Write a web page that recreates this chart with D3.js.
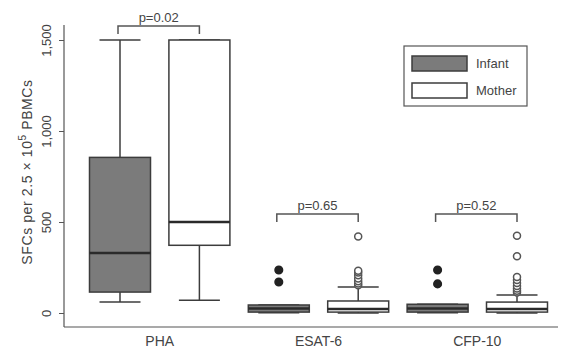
<!DOCTYPE html>
<html>
<head>
<meta charset="utf-8">
<script src="https://cdn.jsdelivr.net/npm/d3@7"></script>
<style>
  body { margin: 0; background: #fff; }
  text { font-family: "Liberation Sans", Arial, sans-serif; fill: #444; }
</style>
</head>
<body>
<div id="chart"></div>
<script>
// ------------------- //
// DATA
// ------------------- //

var groups = ["PHA", "ESAT-6", "CFP-10"]
var series = ["Infant", "Mother"]
var yTicks = [0, 500, 1000, 1500]

// one entry per box: Infant PHA, Mother PHA, Infant ESAT-6, Mother ESAT-6, Infant CFP-10, Mother CFP-10
var boxLow    = [60, 70, 2, 0, 2, 0]
var boxQ1     = [115, 372, 5, 5, 5, 5]
var boxMedian = [330, 500, 25, 22, 25, 22]
var boxQ3     = [855, 1500, 44, 66, 48, 60]
var boxHigh   = [1500, 1500, 44, 143, 48, 99]
var outliers  = [[], [], [170, 236], [152, 162, 175, 190, 208, 222, 232, 420],
                 [160, 236], [112, 122, 134, 148, 165, 182, 198, 312, 424]]

var pLabels = ["p=0.02", "p=0.65", "p=0.52"]


// ------------------- //
// SETUP
// ------------------- //

var W = 566, H = 352

var svg = d3.select("#chart")
  .append("svg")
    .attr("width", W)
    .attr("height", H)

var y = d3.scaleLinear()
    .domain([0, 1500])
    .range([313, 40])

// box positions 1..6
var x = d3.scaleLinear()
    .domain([1, 6])
    .range([120, 517])

var boxW = 61, capW = 41
var dark = "#3c3c3c"

var boxes = boxLow.map(function(d, i) {
  return {i: i, pos: i + 1, s: i % 2, low: boxLow[i], q1: boxQ1[i], med: boxMedian[i],
          q3: boxQ3[i], high: boxHigh[i], out: outliers[i]}
})


// ------------------- //
// AXES
// ------------------- //

// L-shaped frame
svg.append("line")
    .attr("x1", 64).attr("x2", 64).attr("y1", 25).attr("y2", 327)
    .attr("stroke", "#555").attr("stroke-width", 1.2)
svg.append("line")
    .attr("x1", 64).attr("x2", 558).attr("y1", 327).attr("y2", 327)
    .attr("stroke", "#555").attr("stroke-width", 1.2)

var yAxis = svg.append("g")
    .attr("transform", "translate(64,0)")
    .call(d3.axisLeft(y).tickValues(yTicks).tickSize(5).tickFormat(d3.format(",")))
yAxis.select(".domain").remove()
yAxis.selectAll(".tick line").attr("stroke", "#555")
yAxis.selectAll(".tick text")
    .attr("x", null).attr("dy", null)
    .attr("transform", "translate(-13,0) rotate(-90)")
    .attr("text-anchor", "middle")
    .style("font-size", "13px")
    .style("font-family", "Liberation Sans, Arial, sans-serif")
    .attr("fill", "#444")

// y title
var yTitle = svg.append("text")
    .attr("transform", "translate(32,172) rotate(-90)")
    .attr("text-anchor", "middle")
    .style("font-size", "14px")
    .style("letter-spacing", "0.6px")
yTitle.append("tspan").text("SFCs per 2.5 × 10")
yTitle.append("tspan").attr("dy", -6).style("font-size", "10px").text("5")
yTitle.append("tspan").attr("dy", 6).text(" PBMCs")

// category labels
svg.selectAll(".catLabel")
  .data(groups)
  .enter()
  .append("text")
    .attr("x", function(d, i) { return (x(2 * i + 1) + x(2 * i + 2)) / 2 })
    .attr("y", 346)
    .attr("text-anchor", "middle")
    .style("font-size", "14px")
    .text(function(d) { return d })


// ------------------- //
// BOXES
// ------------------- //

var g = svg.selectAll(".box")
  .data(boxes)
  .enter()
  .append("g")
    .attr("class", "box")

// whiskers
g.append("line")
    .attr("x1", function(d) { return x(d.pos) }).attr("x2", function(d) { return x(d.pos) })
    .attr("y1", function(d) { return y(d.q3) }).attr("y2", function(d) { return y(d.high) })
    .attr("stroke", dark).attr("stroke-width", 1.5)
g.append("line")
    .attr("x1", function(d) { return x(d.pos) }).attr("x2", function(d) { return x(d.pos) })
    .attr("y1", function(d) { return y(d.q1) }).attr("y2", function(d) { return y(d.low) })
    .attr("stroke", dark).attr("stroke-width", 1.5)

// caps
g.append("line")
    .attr("x1", function(d) { return x(d.pos) - capW / 2 }).attr("x2", function(d) { return x(d.pos) + capW / 2 })
    .attr("y1", function(d) { return y(d.high) }).attr("y2", function(d) { return y(d.high) })
    .attr("stroke", dark).attr("stroke-width", 1.5)
g.append("line")
    .attr("x1", function(d) { return x(d.pos) - capW / 2 }).attr("x2", function(d) { return x(d.pos) + capW / 2 })
    .attr("y1", function(d) { return y(d.low) }).attr("y2", function(d) { return y(d.low) })
    .attr("stroke", dark).attr("stroke-width", 1.5)

// box
g.append("rect")
    .attr("x", function(d) { return x(d.pos) - boxW / 2 })
    .attr("width", boxW)
    .attr("y", function(d) { return y(d.q3) })
    .attr("height", function(d) { return y(d.q1) - y(d.q3) })
    .attr("fill", function(d) { return d.s == 0 ? "#7b7b7b" : "#fff" })
    .attr("stroke", dark).attr("stroke-width", 1.5)

// median
g.append("line")
    .attr("x1", function(d) { return x(d.pos) - boxW / 2 }).attr("x2", function(d) { return x(d.pos) + boxW / 2 })
    .attr("y1", function(d) { return y(d.med) }).attr("y2", function(d) { return y(d.med) })
    .attr("stroke", "#2a2a2a").attr("stroke-width", 2.5)

// outliers
g.selectAll(".out")
  .data(function(d) { return d.out.map(function(v) { return {v: v, pos: d.pos, s: d.s} }) })
  .enter()
  .append("circle")
    .attr("cx", function(d) { return x(d.pos) })
    .attr("cy", function(d) { return y(d.v) })
    .attr("r", function(d) { return d.s == 0 ? 3.8 : 3.5 })
    .attr("fill", function(d) { return d.s == 0 ? "#222" : "#fff" })
    .attr("stroke", function(d) { return d.s == 0 ? "#222" : "#555" })
    .attr("stroke-width", 1.5)


// ------------------- //
// P-VALUE BRACKETS
// ------------------- //

var bracketTop = [26, 214, 214]

pLabels.forEach(function(p, i) {
  var x1 = x(2 * i + 1) - 2, x2 = x(2 * i + 2)
  var yt = bracketTop[i]
  svg.append("path")
      .attr("d", "M" + x1 + "," + (yt + 8) + "V" + yt + "H" + x2 + "V" + (yt + 8))
      .attr("fill", "none")
      .attr("stroke", "#555").attr("stroke-width", 1.5)
  svg.append("text")
      .attr("x", (x1 + x2) / 2)
      .attr("y", yt - 4)
      .attr("text-anchor", "middle")
      .style("font-size", "13px")
      .text(p)
})


// ------------------- //
// LEGEND
// ------------------- //

svg.append("rect")
    .attr("x", 404).attr("y", 46).attr("width", 123).attr("height", 60)
    .attr("fill", "#fff").attr("stroke", "#555").attr("stroke-width", 1.2)

var leg = svg.selectAll(".leg")
  .data(series)
  .enter()
  .append("g")
    .attr("transform", function(d, i) { return "translate(412," + (56 + i * 27) + ")" })

leg.append("rect")
    .attr("width", 55).attr("height", 15)
    .attr("fill", function(d, i) { return i == 0 ? "#7b7b7b" : "#fff" })
    .attr("stroke", dark).attr("stroke-width", 1.5)
leg.append("text")
    .attr("x", 64).attr("y", 12)
    .style("font-size", "13px")
    .text(function(d) { return d })
</script>
</body>
</html>
